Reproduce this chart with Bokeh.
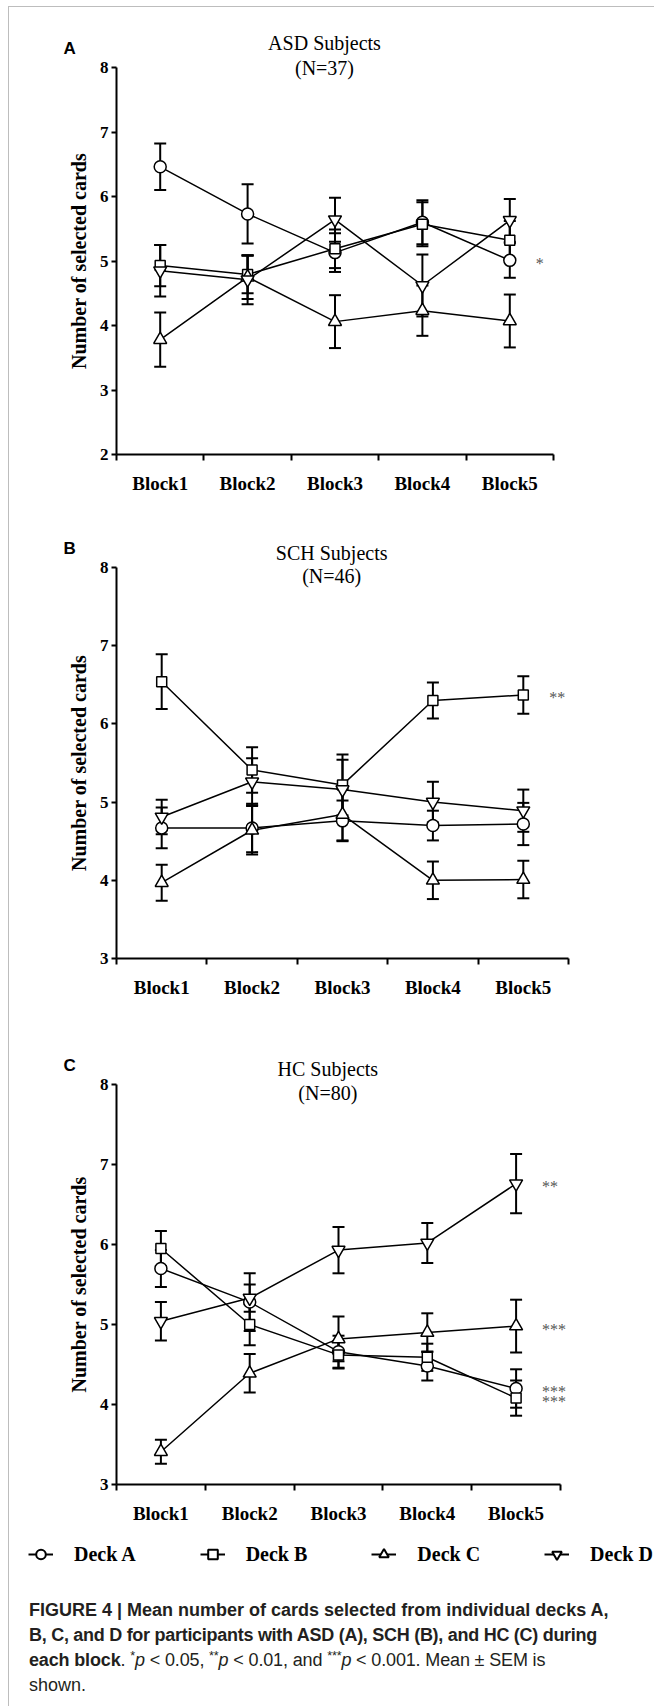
from bokeh.plotting import figure
from bokeh.models import (Range1d, FixedTicker, ColumnDataSource, Whisker, TeeHead,
                          Label, LabelSet, Legend, LegendItem, Div)
from bokeh.layouts import column
from bokeh.embed import file_html
from bokeh.resources import INLINE

# ---------------- data ----------------
blocks = ["Block1", "Block2", "Block3", "Block4", "Block5"]
decks = ["Deck A", "Deck B", "Deck C", "Deck D"]
deck_markers = ["circle", "square", "triangle", "inverted_triangle"]

# ASD subjects (N=37)
asd_a_mean = [6.46, 5.73, 5.13, 5.60, 5.01]
asd_a_sem = [0.36, 0.46, 0.30, 0.34, 0.27]
asd_b_mean = [4.93, 4.79, 5.19, 5.57, 5.32]
asd_b_sem = [0.32, 0.29, 0.30, 0.34, 0.30]
asd_c_mean = [3.78, 4.75, 4.06, 4.23, 4.07]
asd_c_sem = [0.42, 0.34, 0.41, 0.39, 0.41]
asd_d_mean = [4.85, 4.71, 5.64, 4.62, 5.63]
asd_d_sem = [0.40, 0.38, 0.34, 0.48, 0.33]

# SCH subjects (N=46)
sch_a_mean = [4.67, 4.67, 4.76, 4.70, 4.72]
sch_a_sem = [0.26, 0.31, 0.26, 0.19, 0.27]
sch_b_mean = [6.54, 5.41, 5.22, 6.30, 6.37]
sch_b_sem = [0.35, 0.29, 0.39, 0.23, 0.24]
sch_c_mean = [3.97, 4.64, 4.84, 4.00, 4.01]
sch_c_sem = [0.23, 0.31, 0.33, 0.24, 0.24]
sch_d_mean = [4.81, 5.26, 5.16, 5.00, 4.89]
sch_d_sem = [0.22, 0.30, 0.38, 0.26, 0.27]

# HC subjects (N=80)
hc_a_mean = [5.70, 5.28, 4.66, 4.48, 4.20]
hc_a_sem = [0.23, 0.36, 0.20, 0.18, 0.24]
hc_b_mean = [5.95, 5.00, 4.62, 4.59, 4.08]
hc_b_sem = [0.22, 0.26, 0.17, 0.17, 0.22]
hc_c_mean = [3.41, 4.39, 4.82, 4.90, 4.98]
hc_c_sem = [0.15, 0.24, 0.28, 0.24, 0.33]
hc_d_mean = [5.04, 5.33, 5.93, 6.02, 6.76]
hc_d_sem = [0.24, 0.17, 0.29, 0.25, 0.37]

# significance marks at Block5 (deck index, text)
asd_sig_decks = [0]
asd_sig_text = ["*"]
sch_sig_decks = [1]
sch_sig_text = ["**"]
hc_sig_decks = [3, 2, 0, 1]
hc_sig_text = ["**", "***", "***", "***"]

panel_titles = ["ASD Subjects", "SCH Subjects", "HC Subjects"]
panel_ns = ["(N=37)", "(N=46)", "(N=80)"]
panel_letters = ["A", "B", "C"]
y_label = "Number of selected cards"

# ---------------- styling / geometry ----------------
SERIF = "Liberation Serif"
SANS = "Liberation Sans"
MARKER_SIZES = [12, 10, 13, 13]
FIG_W = 645
TITLE_X = 2.38
YMAX = 8


def make_panel(means, sems, ymin, fig_h, y8_px, ymin_px, x0_px, x5_px,
               title, ntext, t_off, n_off, letter, sig_decks, sig_text):
    nb = len(blocks)
    ppx = (x5_px - x0_px) / nb
    x_start = -x0_px / ppx
    x_end = nb + (FIG_W - x5_px) / ppx
    ppy = (ymin_px - y8_px) / (YMAX - ymin)
    y_end = YMAX + y8_px / ppy
    y_start = ymin - (fig_h - ymin_px) / ppy

    p = figure(width=FIG_W, height=fig_h, title=None,
               x_range=Range1d(x_start, x_end), y_range=Range1d(y_start, y_end),
               output_backend="svg", toolbar_location=None,
               min_border=0, min_border_left=0, min_border_right=0,
               min_border_top=0, min_border_bottom=0)
    p.frame_align = False
    p.grid.visible = False
    p.outline_line_color = None
    p.background_fill_color = "white"
    p.border_fill_color = "white"

    xs = [i + 0.5 for i in range(nb)]

    # x axis: labels at block centres, ticks at block boundaries
    xa = p.xaxis[0]
    xa.fixed_location = ymin
    xa.bounds = (0, nb)
    xa.ticker = FixedTicker(ticks=xs, minor_ticks=list(range(nb + 1)))
    xa.major_label_overrides = {x: b for x, b in zip(xs, blocks)}
    xa.major_tick_line_color = None
    xa.major_tick_out = 0
    xa.major_tick_in = 0
    xa.minor_tick_line_color = "black"
    xa.minor_tick_line_width = 2
    xa.minor_tick_out = 6
    xa.minor_tick_in = 0
    xa.axis_line_width = 2
    xa.major_label_standoff = 12
    xa.major_label_text_font = SERIF
    xa.major_label_text_font_style = "bold"
    xa.major_label_text_font_size = "19px"
    xa.major_label_text_color = "black"

    ya = p.yaxis[0]
    ya.fixed_location = 0
    ya.bounds = (ymin, YMAX)
    ya.ticker = FixedTicker(ticks=list(range(ymin, YMAX + 1)))
    ya.minor_tick_line_color = None
    ya.major_tick_line_width = 2
    ya.major_tick_out = 5
    ya.major_tick_in = 0
    ya.axis_line_width = 2
    ya.major_label_standoff = 3
    ya.major_label_text_font = SERIF
    ya.major_label_text_font_style = "bold"
    ya.major_label_text_font_size = "17px"
    ya.major_label_text_color = "black"
    ya.axis_label = y_label
    ya.axis_label_text_font = SERIF
    ya.axis_label_text_font_style = "bold"
    ya.axis_label_text_font_size = "20px"
    ya.axis_label_text_color = "black"
    ya.axis_label_standoff = 7

    # connecting lines
    for m in means:
        p.line(xs, m, line_color="black", line_width=1.5)

    # error bars (mean +/- SEM)
    for m, s in zip(means, sems):
        src = ColumnDataSource(dict(x=xs,
                                    upper=[a + b for a, b in zip(m, s)],
                                    lower=[a - b for a, b in zip(m, s)]))
        w = Whisker(source=src, base="x", upper="upper", lower="lower",
                    dimension="height", line_color="black", line_width=2,
                    upper_head=TeeHead(size=12, line_width=2, line_color="black"),
                    lower_head=TeeHead(size=12, line_width=2, line_color="black"))
        p.add_layout(w)

    # markers
    for m, mk, sz in zip(means, deck_markers, MARKER_SIZES):
        p.scatter(xs, m, marker=mk, size=sz, fill_color="white",
                  line_color="black", line_width=1.5)

    # significance asterisks
    sig_src = ColumnDataSource(dict(
        x=[xs[-1]] * len(sig_decks),
        y=[means[d][-1] for d in sig_decks],
        text=sig_text))
    p.add_layout(LabelSet(source=sig_src, x="x", y="y", text="text",
                          x_offset=26, y_offset=-3, text_align="left",
                          text_baseline="middle", text_font=SERIF,
                          text_font_size="16px", text_color="#555555"))

    # titles and panel letter
    p.add_layout(Label(x=TITLE_X, y=YMAX, y_offset=t_off, text=title,
                       text_align="center", text_baseline="middle",
                       text_font=SERIF, text_font_size="20px", text_color="black"))
    p.add_layout(Label(x=TITLE_X, y=YMAX, y_offset=n_off, text=ntext,
                       text_align="center", text_baseline="middle",
                       text_font=SERIF, text_font_size="20px", text_color="black"))
    p.add_layout(Label(x=0, y=YMAX, x_offset=-53, y_offset=19, text=letter,
                       text_align="left", text_baseline="middle",
                       text_font=SANS, text_font_style="bold",
                       text_font_size="17px", text_color="black"))
    return p


# panel geometry in px (figure coordinates): height, y of 8, y of axis min, x of 0, x of 5
pA = make_panel([asd_a_mean, asd_b_mean, asd_c_mean, asd_d_mean],
                [asd_a_sem, asd_b_sem, asd_c_sem, asd_d_sem],
                2, 528, 60, 447, 107, 544, panel_titles[0], panel_ns[0], 25, 0,
                panel_letters[0], asd_sig_decks, asd_sig_text)
pB = make_panel([sch_a_mean, sch_b_mean, sch_c_mean, sch_d_mean],
                [sch_a_sem, sch_b_sem, sch_c_sem, sch_d_sem],
                3, 506, 32, 423, 107, 559, panel_titles[1], panel_ns[1], 15, -8,
                panel_letters[1], sch_sig_decks, sch_sig_text)
pC = make_panel([hc_a_mean, hc_b_mean, hc_c_mean, hc_d_mean],
                [hc_a_sem, hc_b_sem, hc_c_sem, hc_d_sem],
                3, 489, 43, 443, 107, 551, panel_titles[2], panel_ns[2], 16, -8,
                panel_letters[2], hc_sig_decks, hc_sig_text)

# ---------------- legend ----------------
pL = figure(width=FIG_W, height=60, title=None,
            x_range=Range1d(0, 1), y_range=Range1d(0, 1),
            output_backend="svg", toolbar_location=None,
            x_axis_location=None, y_axis_location=None,
            min_border=0, min_border_left=0, min_border_right=0,
            min_border_top=0, min_border_bottom=0)
pL.frame_align = False
pL.grid.visible = False
pL.outline_line_color = None
items = []
for d, mk in zip(decks, deck_markers):
    # legend proxies: a single point placed outside the visible range
    lr = pL.line(x=[-5, -4], y=[-5, -5], line_color="black", line_width=2)
    sr = pL.scatter(x=[-5], y=[-5], marker=mk, size=10, fill_color="white",
                    line_color="black", line_width=2)
    items.append(LegendItem(label=d, renderers=[lr, sr]))
legend = Legend(items=items, orientation="horizontal", location=(19, 24),
                glyph_width=25, glyph_height=24, label_standoff=21, spacing=64,
                padding=0, margin=0, border_line_alpha=0, background_fill_alpha=0,
                label_text_font=SERIF, label_text_font_style="bold",
                label_text_font_size="20px", label_text_color="black")
pL.add_layout(legend)

# ---------------- caption ----------------
SUP = '<span style="position: relative; top: -0.45em; font-size: 0.7em; line-height: 0;">'


def line_div(spacing):
    return ('<div style="height: 25px; line-height: 25px; white-space: nowrap; '
            'letter-spacing: %spx;">' % spacing)


caption_html = (
    '<div style="font-family: \'Liberation Sans Narrow\', \'Arial Narrow\', sans-serif; '
    'font-size: 18px; color: #231f20; padding: 3px 0 0 15px;">'
    + line_div(0) + '<b>FIGURE 4 | Mean number of cards selected from individual decks A,</b></div>'
    + line_div(-0.28) + '<b>B, C, and D for participants with ASD (A), SCH (B), and HC (C) during</b></div>'
    + line_div(-0.15) + '<b>each block</b>. ' + SUP + '*</span><i>p</i> &lt; 0.05, '
    + SUP + '**</span><i>p</i> &lt; 0.01, and ' + SUP + '***</span><i>p</i> &lt; 0.001. '
    'Mean &plusmn; SEM is</div>'
    + line_div(0) + 'shown.</div></div>'
)
caption = Div(text=caption_html, width=FIG_W, height=116)

layout = column(pA, pB, pC, pL, caption, spacing=0,
                styles={"border-left": "1px solid #bdbdbd",
                        "border-top": "1px solid #bdbdbd",
                        "margin-left": "8px", "margin-top": "6px"})

open("out.html", "w").write(file_html(layout, INLINE))
